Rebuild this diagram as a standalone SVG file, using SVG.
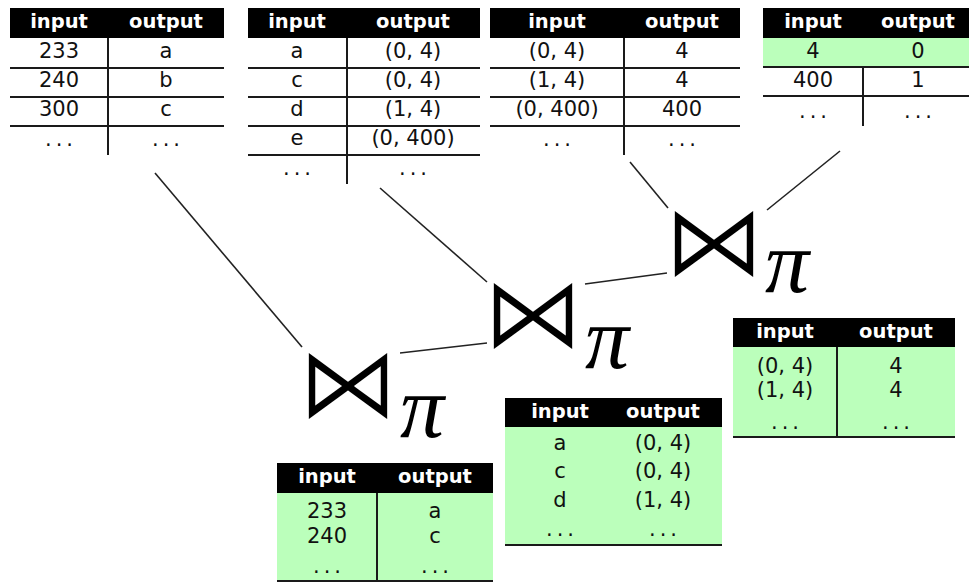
<svg xmlns="http://www.w3.org/2000/svg" width="969" height="583" viewBox="0 0 969 583">
  <style>
    .hdr { fill: #000; }
    .grn { fill: #bbffbb; }
    .rule { stroke: #1a1a1a; stroke-width: 2; fill: none; }
    .ht { font-family: "DejaVu Sans", sans-serif; font-weight: bold; font-size: 19.5px; fill: #fff; text-anchor: middle; }
    .c { font-family: "DejaVu Sans", sans-serif; font-size: 21px; fill: #111; text-anchor: middle; }
    .dots { font-family: "DejaVu Sans", sans-serif; font-size: 21px; letter-spacing: 4px; fill: #111; text-anchor: middle; }
    .edge { stroke: #222; stroke-width: 1.6; fill: none; }
    /* light white outline trims the heavy bowtie glyph a little */
    .join { font-family: "DejaVu Sans", sans-serif; font-size: 102px; fill: #000; stroke: #fff; stroke-width: 2; text-anchor: middle; }
    .pi { font-family: "Liberation Serif", serif; font-style: italic; font-size: 88px; fill: #000; }
  </style>

  <!-- join operators (drawn first so connectors stay on top) -->
  <g id="join-1">
    <text class="join" x="348" y="418">⋈</text>
    <text class="pi" x="400" y="437">π</text>
  </g>
  <g id="join-2">
    <text class="join" x="533" y="348">⋈</text>
    <text class="pi" x="585" y="368">π</text>
  </g>
  <g id="join-3">
    <text class="join" x="714" y="276">⋈</text>
    <text class="pi" x="765" y="292">π</text>
  </g>

  <!-- connectors between tables and join operators -->
  <g id="connectors">
    <line class="edge" x1="155" y1="173" x2="302" y2="347"/>
    <line class="edge" x1="380" y1="188" x2="487" y2="282"/>
    <line class="edge" x1="400" y1="353" x2="487" y2="343"/>
    <line class="edge" x1="630" y1="162" x2="668" y2="208"/>
    <line class="edge" x1="840" y1="151" x2="767" y2="210"/>
    <line class="edge" x1="585" y1="284" x2="667" y2="273"/>
  </g>

  <!-- table: number -> letter -->
  <g id="t-num-letter">
    <rect class="hdr" x="10" y="8" width="214" height="30"/>
    <text class="ht" x="59" y="28">input</text>
    <text class="ht" x="166" y="28">output</text>
    <path class="rule" d="M10 68H224M10 97H224M10 126H224M108 38V155"/>
    <text class="c" x="59" y="58">233</text><text class="c" x="166" y="58">a</text>
    <text class="c" x="59" y="87">240</text><text class="c" x="166" y="87">b</text>
    <text class="c" x="59" y="116">300</text><text class="c" x="166" y="116">c</text>
    <text class="dots" x="61" y="146">...</text><text class="dots" x="168" y="146">...</text>
  </g>

  <!-- table: letter -> pair -->
  <g id="t-letter-pair">
    <rect class="hdr" x="248" y="8" width="232" height="30"/>
    <text class="ht" x="297" y="28">input</text>
    <text class="ht" x="413" y="28">output</text>
    <path class="rule" d="M248 68H480M248 97H480M248 126H480M248 155H480M347 38V184"/>
    <text class="c" x="297" y="58">a</text><text class="c" x="413" y="58">(0, 4)</text>
    <text class="c" x="297" y="87">c</text><text class="c" x="413" y="87">(0, 4)</text>
    <text class="c" x="297" y="116">d</text><text class="c" x="413" y="116">(1, 4)</text>
    <text class="c" x="297" y="145">e</text><text class="c" x="413" y="145">(0, 400)</text>
    <text class="dots" x="299" y="175">...</text><text class="dots" x="415" y="175">...</text>
  </g>

  <!-- table: pair -> number -->
  <g id="t-pair-num">
    <rect class="hdr" x="490" y="8" width="250" height="30"/>
    <text class="ht" x="557" y="28">input</text>
    <text class="ht" x="682" y="28">output</text>
    <path class="rule" d="M490 68H740M490 97H740M490 126H740M624 38V155"/>
    <text class="c" x="557" y="58">(0, 4)</text><text class="c" x="682" y="58">4</text>
    <text class="c" x="557" y="87">(1, 4)</text><text class="c" x="682" y="87">4</text>
    <text class="c" x="557" y="116">(0, 400)</text><text class="c" x="682" y="116">400</text>
    <text class="dots" x="559" y="146">...</text><text class="dots" x="684" y="146">...</text>
  </g>

  <!-- table: number -> index -->
  <g id="t-num-index">
    <rect class="hdr" x="763" y="8" width="206" height="30"/>
    <rect class="grn" x="763" y="38" width="206" height="29"/>
    <text class="ht" x="813" y="28">input</text>
    <text class="ht" x="918" y="28">output</text>
    <path class="rule" d="M763 67H969M763 96H969M863 67V126"/>
    <text class="c" x="813" y="58">4</text><text class="c" x="918" y="58">0</text>
    <text class="c" x="813" y="87">400</text><text class="c" x="918" y="87">1</text>
    <text class="dots" x="815" y="118">...</text><text class="dots" x="920" y="118">...</text>
  </g>

  <!-- result: number -> letter -->
  <g id="r-num-letter">
    <rect class="grn" x="277" y="493" width="216" height="88"/>
    <rect class="hdr" x="277" y="463" width="216" height="30"/>
    <text class="ht" x="327" y="483">input</text>
    <text class="ht" x="435" y="483">output</text>
    <path class="rule" d="M277 581H493M377 493V581"/>
    <text class="c" x="327" y="518">233</text><text class="c" x="435" y="518">a</text>
    <text class="c" x="327" y="543">240</text><text class="c" x="435" y="543">c</text>
    <text class="dots" x="329" y="573">...</text><text class="dots" x="437" y="573">...</text>
  </g>

  <!-- result: letter -> pair -->
  <g id="r-letter-pair">
    <rect class="grn" x="505" y="427" width="217" height="118"/>
    <rect class="hdr" x="505" y="398" width="217" height="29"/>
    <text class="ht" x="560" y="418">input</text>
    <text class="ht" x="663" y="418">output</text>
    <path class="rule" d="M505 545H722"/>
    <text class="c" x="560" y="450">a</text><text class="c" x="663" y="450">(0, 4)</text>
    <text class="c" x="560" y="478">c</text><text class="c" x="663" y="478">(0, 4)</text>
    <text class="c" x="560" y="507">d</text><text class="c" x="663" y="507">(1, 4)</text>
    <text class="dots" x="562" y="536">...</text><text class="dots" x="665" y="536">...</text>
  </g>

  <!-- result: pair -> number -->
  <g id="r-pair-num">
    <rect class="grn" x="733" y="347" width="222" height="90"/>
    <rect class="hdr" x="733" y="318" width="222" height="29"/>
    <text class="ht" x="785" y="338">input</text>
    <text class="ht" x="896" y="338">output</text>
    <path class="rule" d="M733 437H955M837 347V437"/>
    <text class="c" x="785" y="373">(0, 4)</text><text class="c" x="896" y="373">4</text>
    <text class="c" x="785" y="397">(1, 4)</text><text class="c" x="896" y="397">4</text>
    <text class="dots" x="787" y="429">...</text><text class="dots" x="898" y="429">...</text>
  </g>
</svg>
